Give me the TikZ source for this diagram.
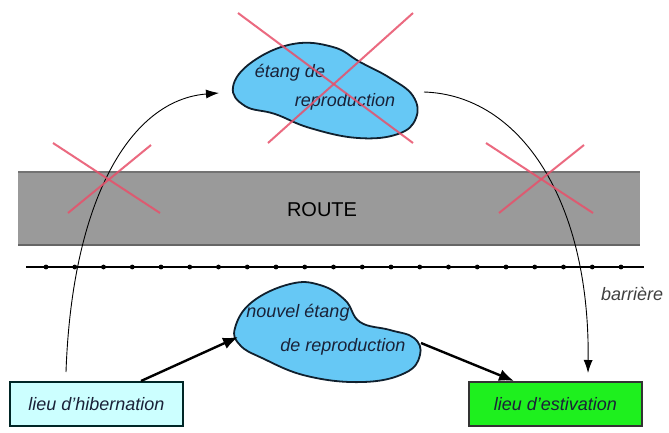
\documentclass[tikz,border=0pt]{standalone}
\usepackage{fontspec}
\setmainfont{Liberation Sans}
\usetikzlibrary{arrows.meta}
\definecolor{pondblue}{HTML}{66C8F5}
\definecolor{pondline}{HTML}{10202E}
\definecolor{crossred}{HTML}{E8506A}
\definecolor{roadgray}{HTML}{9A9A9A}
\definecolor{hibfill}{HTML}{CCFFFF}
\definecolor{estfill}{HTML}{1EF01E}
\definecolor{txtdark}{HTML}{1A2238}
\begin{document}
\begin{tikzpicture}[x=1pt,y=-1pt,
  pond/.style={draw=pondline, line width=1.8pt, fill=pondblue},
  lbl/.style={font=\fontsize{18}{21}\selectfont\itshape, text=txtdark, inner sep=0pt},
  redx/.style={draw=crossred, line width=2pt, opacity=0.85},
  placebox/.style={draw=#1, line width=1.3pt, minimum width=173pt, minimum height=44pt, inner sep=0pt,
    font=\fontsize{18}{21}\selectfont\itshape, text=txtdark},
  thinarrow/.style={draw=black, line width=0.9pt, -{Latex[length=13pt,width=9pt]}},
  thickarrow/.style={draw=black, line width=2.4pt, -{Latex[length=15pt,width=12pt]}}]
\useasboundingbox (0,0) rectangle (669,432);
\fill[white] (0,0) rectangle (669,432);

% road
\fill[roadgray] (18,172) rectangle (640,245);
\draw[black!55, line width=1.2pt] (18,172) -- (640,172);
\draw[black!60, line width=1.2pt] (18,245) -- (640,245);
\node[font=\fontsize{20}{23}\selectfont, text=black] (route) at (322,210) {ROUTE};

% barrier
\coordinate (barl) at (26,267);
\coordinate (barr) at (644,267);
\draw[black, line width=1.8pt] (barl) -- (barr);
\foreach \i in {0,...,20} {\fill[black] ({46+28.75*\i},267) circle (2.4pt);}
\node[font=\fontsize{18}{21}\selectfont\itshape, text=black!75, anchor=west, inner sep=0pt] (barriere) at (601,294) {barrière};

% places
\node[placebox=black!70!teal, fill=hibfill] (hib) at (96.5,404) {lieu d'hibernation};
\node[placebox=black!80, fill=estfill] (est) at (555.5,404) {lieu d'estivation};

% named connector ends
\coordinate (hibtop) at (66,372);
\coordinate (tpin) at (219,93);
\coordinate (tpout) at (424,92);
\coordinate (esttop) at (588,373);
\coordinate (hibright) at (141,381);
\coordinate (bpin) at (238,337);
\coordinate (bpout) at (421,343);
\coordinate (estleft) at (514,381);

% migration curves
\draw[thinarrow] (hibtop) .. controls (72,200) and (130,100) .. (tpin);
\draw[thinarrow] (tpout) .. controls (520,95) and (590,200) .. (esttop);

% top pond
\draw[pond] plot[smooth cycle, tension=0.7] coordinates {(233,87) (252,62) (293,44) (333,47) (360,62) (390,78) (413,96) (416,118) (398,134) (358,138) (310,128) (275,114) (245,106)};
\node[lbl] (tp1) at (290,73) {étang de};
\node[lbl] (tp2) at (345,102) {reproduction};

% bottom pond
\draw[pond] plot[smooth cycle, tension=0.7] coordinates {(235,328) (252,302) (290,284) (320,285) (345,300) (360,322) (390,330) (414,338) (420,355) (405,373) (363,382) (307,376) (262,358) (240,345)};
\node[lbl] (bp1) at (298,313) {nouvel étang};
\node[lbl] (bp2) at (343,347) {de reproduction};

% bottom arrows
\draw[thickarrow] (hibright) -- (bpin);
\draw[thickarrow] (bpout) -- (estleft);

% red crosses
\coordinate (x1a) at (238,13); \coordinate (x1b) at (413,143);
\coordinate (x1c) at (413,13); \coordinate (x1d) at (268,143);
\draw[redx] (x1a) -- (x1b);
\draw[redx] (x1c) -- (x1d);
\coordinate (x2a) at (53,143); \coordinate (x2b) at (160,213);
\coordinate (x2c) at (151,145); \coordinate (x2d) at (68,213);
\draw[redx] (x2a) -- (x2b);
\draw[redx] (x2c) -- (x2d);
\coordinate (x3a) at (486,143); \coordinate (x3b) at (593,213);
\coordinate (x3c) at (584,145); \coordinate (x3d) at (499,213);
\draw[redx] (x3a) -- (x3b);
\draw[redx] (x3c) -- (x3d);
\end{tikzpicture}
\end{document}
